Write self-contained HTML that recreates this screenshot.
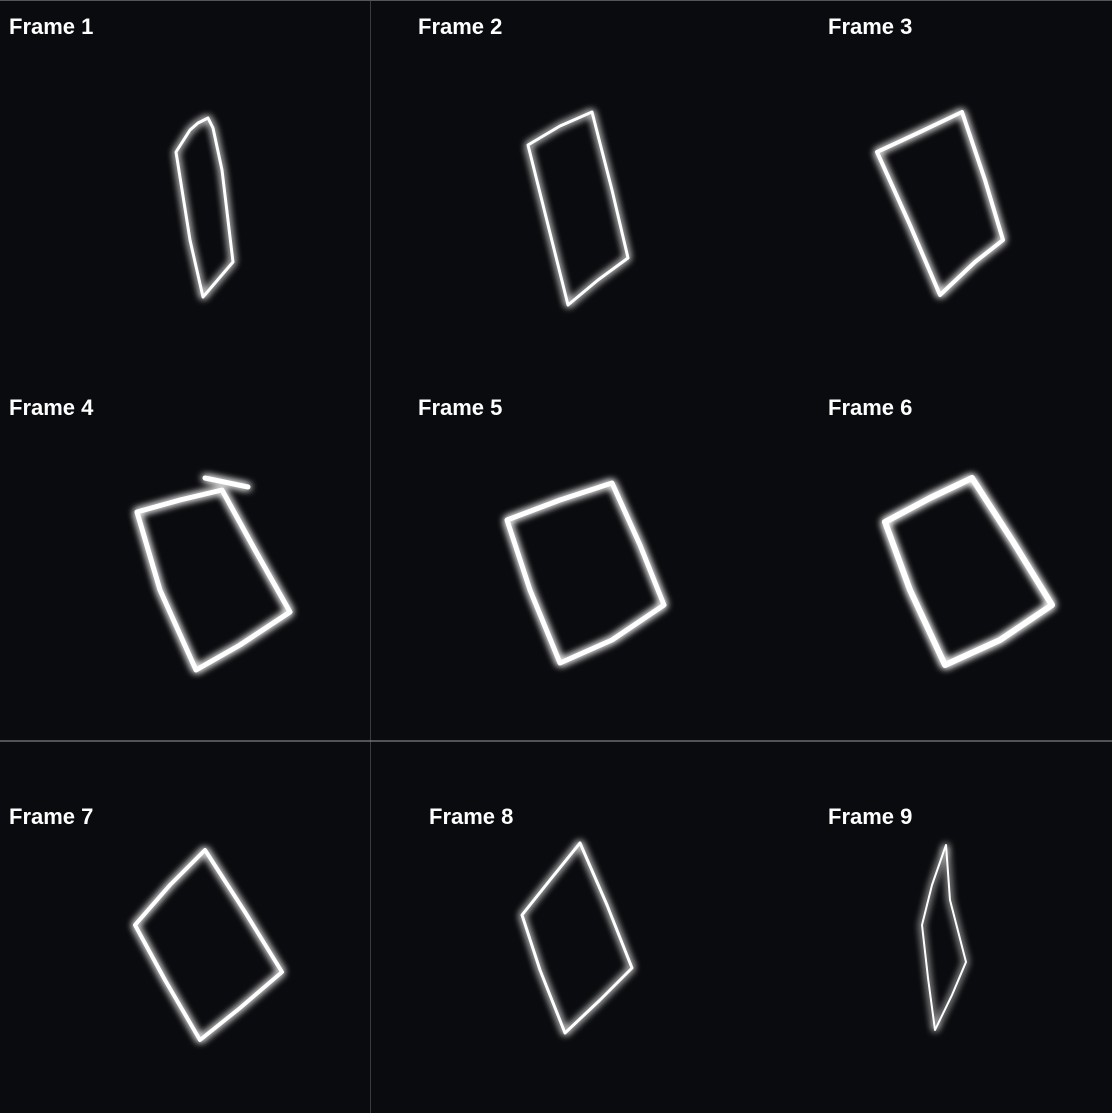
<!DOCTYPE html>
<html><head><meta charset="utf-8"><style>
html,body{margin:0;padding:0;background:#0a0b0e;}
svg{display:block}
text{font-family:"Liberation Sans",sans-serif;font-weight:bold;font-size:22px;fill:#fff}
</style></head><body>
<svg id="grid" width="1112" height="1113" viewBox="0 0 1112 1113">
<defs>
<filter id="glow" x="-20%" y="-20%" width="140%" height="140%">
<feGaussianBlur in="SourceGraphic" stdDeviation="4" result="b"/>
<feMerge><feMergeNode in="b"/><feMergeNode in="b"/><feMergeNode in="SourceGraphic"/></feMerge>
</filter>
</defs>
<rect width="1112" height="1113" fill="#0a0b0e"/>
<line x1="370.5" y1="0" x2="370.5" y2="1113" stroke="#3a3b3e" stroke-width="1"/>
<line x1="0" y1="741" x2="1112" y2="741" stroke="#9a9b9e" stroke-width="1"/>
<line x1="0" y1="0.5" x2="1112" y2="0.5" stroke="#555" stroke-width="1"/>
<g id="shapes" filter="url(#glow)" fill="none" stroke="#fff" stroke-linejoin="round" stroke-linecap="round"></g>
<text x="9" y="34">Frame 1</text>
<text x="418" y="34">Frame 2</text>
<text x="828" y="34">Frame 3</text>
<text x="9" y="415">Frame 4</text>
<text x="418" y="415">Frame 5</text>
<text x="828" y="415">Frame 6</text>
<text x="9" y="824">Frame 7</text>
<text x="429" y="824">Frame 8</text>
<text x="828" y="824">Frame 9</text>
</svg>
<script>
const frameNames = ['frame-1','frame-2','frame-3','frame-4','frame-5','frame-6','frame-7','frame-8','frame-9'];
const frameOutlines = [
 [[198,123],[208,118],[213,128],[222,170],[233,262],[203,297],[190,240],[176,152],[190,130]],
 [[528,145],[560,126],[592,112],[612,190],[628,258],[598,280],[568,305],[548,225]],
 [[877,152],[920,132],[962,112],[985,180],[1003,240],[975,262],[940,295],[910,225]],
 [[137,512],[180,500],[222,490],[255,550],[290,612],[240,645],[196,670],[160,590]],
 [[507,520],[560,500],[612,483],[640,545],[664,605],[612,640],[560,663],[530,590]],
 [[885,522],[930,498],[972,478],[1012,540],[1052,605],[1000,640],[945,665],[910,590]],
 [[135,925],[170,885],[205,850],[245,912],[282,972],[240,1008],[200,1040],[165,980]],
 [[522,915],[550,880],[580,843],[607,905],[632,968],[600,1000],[565,1033],[540,970]],
 [[946,845],[932,885],[922,925],[928,978],[935,1030],[952,995],[966,962],[950,900]]
];
const frameWidths = [3,3,4,5,5,6,4,3,2];
const g = document.getElementById('shapes');
frameOutlines.forEach((pts, i) => {
  const p = document.createElementNS('http://www.w3.org/2000/svg','polygon');
  p.setAttribute('points', pts.map(q => q.join(',')).join(' '));
  p.setAttribute('stroke-width', frameWidths[i]);
  
  
  g.appendChild(p);
});
const flare = document.createElementNS('http://www.w3.org/2000/svg','line');
flare.setAttribute('x1','205');flare.setAttribute('y1','478');flare.setAttribute('x2','248');flare.setAttribute('y2','487');
flare.setAttribute('stroke-width','5');


g.appendChild(flare);
</script>
</body></html>
